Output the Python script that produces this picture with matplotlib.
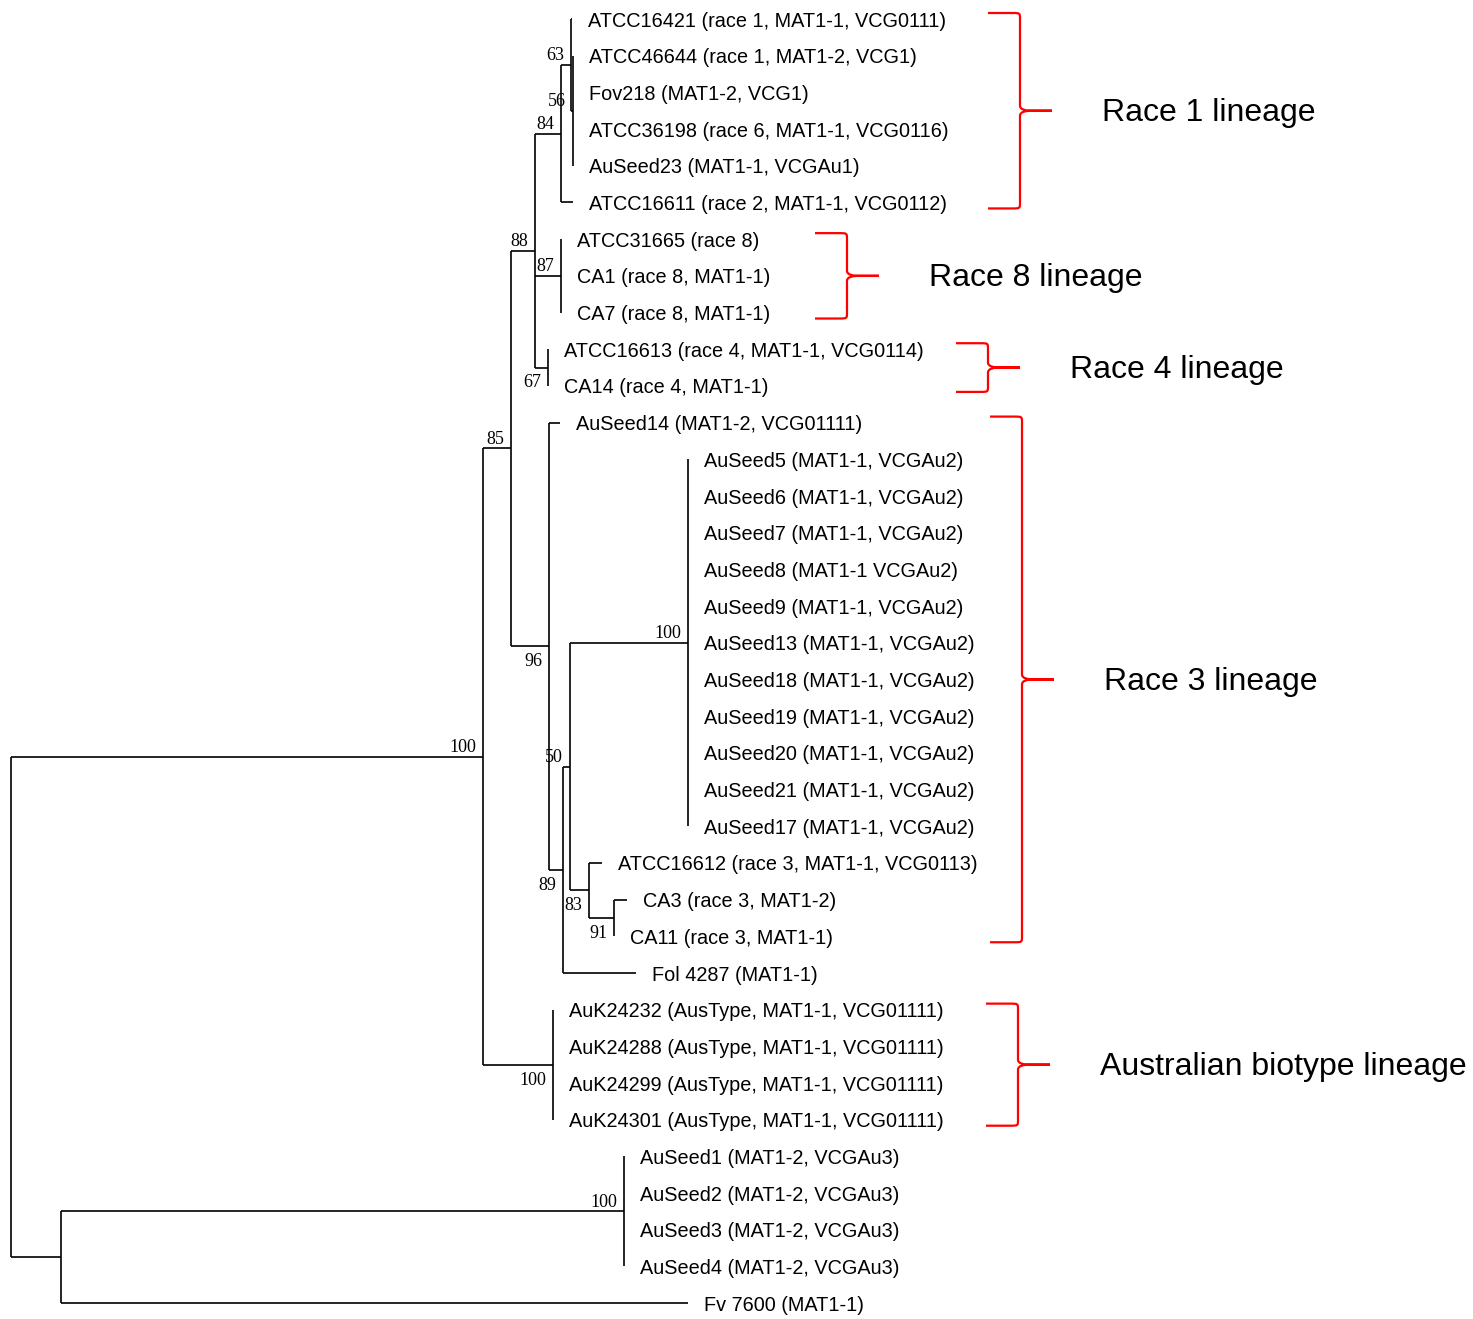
import matplotlib.pyplot as plt
from matplotlib.path import Path
from matplotlib.patches import PathPatch

plt.rcParams['font.family'] = ['Liberation Sans', 'DejaVu Sans']

# tip labels, top to bottom
leaves = [
    "ATCC16421 (race 1, MAT1-1, VCG0111)",
    "ATCC46644 (race 1, MAT1-2, VCG1)",
    "Fov218 (MAT1-2, VCG1)",
    "ATCC36198 (race 6, MAT1-1, VCG0116)",
    "AuSeed23 (MAT1-1, VCGAu1)",
    "ATCC16611 (race 2, MAT1-1, VCG0112)",
    "ATCC31665 (race 8)",
    "CA1 (race 8, MAT1-1)",
    "CA7 (race 8, MAT1-1)",
    "ATCC16613 (race 4, MAT1-1, VCG0114)",
    "CA14 (race 4, MAT1-1)",
    "AuSeed14 (MAT1-2, VCG01111)",
    "AuSeed5 (MAT1-1, VCGAu2)",
    "AuSeed6 (MAT1-1, VCGAu2)",
    "AuSeed7 (MAT1-1, VCGAu2)",
    "AuSeed8 (MAT1-1 VCGAu2)",
    "AuSeed9 (MAT1-1, VCGAu2)",
    "AuSeed13 (MAT1-1, VCGAu2)",
    "AuSeed18 (MAT1-1, VCGAu2)",
    "AuSeed19 (MAT1-1, VCGAu2)",
    "AuSeed20 (MAT1-1, VCGAu2)",
    "AuSeed21 (MAT1-1, VCGAu2)",
    "AuSeed17 (MAT1-1, VCGAu2)",
    "ATCC16612 (race 3, MAT1-1, VCG0113)",
    "CA3 (race 3, MAT1-2)",
    "CA11 (race 3, MAT1-1)",
    "Fol 4287 (MAT1-1)",
    "AuK24232 (AusType, MAT1-1, VCG01111)",
    "AuK24288 (AusType, MAT1-1, VCG01111)",
    "AuK24299 (AusType, MAT1-1, VCG01111)",
    "AuK24301 (AusType, MAT1-1, VCG01111)",
    "AuSeed1 (MAT1-2, VCGAu3)",
    "AuSeed2 (MAT1-2, VCGAu3)",
    "AuSeed3 (MAT1-2, VCGAu3)",
    "AuSeed4 (MAT1-2, VCGAu3)",
    "Fv 7600 (MAT1-1)",
]

# leaf = (leaf index, branch length)
# node = (bootstrap, branch length, label side 'a'bove/'b'elow, children)
tree = (None, 0.0, None, [
    (100, 0.472, 'a', [
        (85, 0.028, 'a', [
            (88, 0.024, 'a', [
                (84, 0.026, 'a', [
                    (63, 0.010, 'a', [
                        (0, 0.001),
                        (56, 0.002, 'a', [(1, 0), (2, 0), (3, 0), (4, 0)]),
                    ]),
                    (5, 0.012),
                ]),
                (87, 0.026, 'a', [(6, 0), (7, 0), (8, 0)]),
                (67, 0.013, 'b', [(9, 0), (10, 0)]),
            ]),
            (96, 0.038, 'b', [
                (11, 0.011),
                (89, 0.014, 'b', [
                    (50, 0.007, 'a', [
                        (100, 0.118, 'a', [(i, 0) for i in range(12, 23)]),
                        (83, 0.019, 'b', [
                            (23, 0.013),
                            (91, 0.025, 'b', [(24, 0.013), (25, 0)]),
                        ]),
                    ]),
                    (26, 0.073),
                ]),
            ]),
        ]),
        (100, 0.070, 'b', [(27, 0), (28, 0), (29, 0), (30, 0)]),
    ]),
    (None, 0.050, None, [
        (100, 0.563, 'a', [(31, 0), (32, 0), (33, 0), (34, 0)]),
        (35, 0.627),
    ]),
])

# lineage brackets
groups = ["Race 1 lineage", "Race 8 lineage", "Race 4 lineage",
          "Race 3 lineage", "Australian biotype lineage"]
group_first = [0, 6, 9, 11, 27]
group_last = [5, 8, 10, 25, 30]
group_x = [0.977, 0.804, 0.945, 0.979, 0.975]

W, H = 1473, 1319
PX = 0.001            # data units per pixel along x
ROW = 36.69           # pixels per leaf row

fig = plt.figure(figsize=(W / 100, H / 100), dpi=100)
ax = fig.add_axes([0, 0, 1, 1])
ax.set_xlim(-11 * PX, (W - 11) * PX)
ax.set_ylim((H - 19) / ROW, -19 / ROW)
ax.axis('off')

lw = 1.2


def draw(node, x0):
    if len(node) == 2:
        idx, bl = node
        x1 = x0 + bl
        ax.plot([x0, x1], [idx, idx], color='black', lw=lw, solid_capstyle='butt')
        ax.annotate(leaves[idx], (x1, idx), xytext=(11.5, -1.5), textcoords='offset points',
                    ha='left', va='center', fontsize=14.3)
        return idx
    support, bl, side, kids = node
    x1 = x0 + bl
    ys = [draw(k, x1) for k in kids]
    y = (ys[0] + ys[-1]) / 2
    ax.plot([x1, x1], [ys[0], ys[-1]], color='black', lw=lw, solid_capstyle='butt')
    if bl > 0:
        ax.plot([x0, x1], [y, y], color='black', lw=lw, solid_capstyle='butt')
    if support is not None:
        if side == 'a':
            ax.annotate(str(support), (x1, y), xytext=(-5, 3.5), textcoords='offset points',
                        ha='right', va='baseline', fontsize=13, family='Liberation Serif')
        else:
            ax.annotate(str(support), (x1, y), xytext=(-5, -5), textcoords='offset points',
                        ha='right', va='top', fontsize=13, family='Liberation Serif')
    return y


draw(tree, 0.0)

# curly brackets
w = 32 * PX
rx, ry = 8 * PX, 6 / ROW
tx, ty = 12 * PX, 5 / ROW
pad = 6 / ROW
for name, a, b, x0 in zip(groups, group_first, group_last, group_x):
    yt, yb = a - pad, b + pad
    ym = (a + b) / 2
    xv = x0 + w
    verts = [
        (x0, yt), (xv - rx, yt),
        (xv, yt), (xv, yt), (xv, yt + ry),
        (xv, ym - ty),
        (xv, ym - ty * 0.2), (xv + tx * 0.5, ym), (xv + tx, ym),
        (xv + w, ym),
        (xv + tx, ym),
        (xv + tx * 0.5, ym), (xv, ym + ty * 0.2), (xv, ym + ty),
        (xv, yb - ry),
        (xv, yb), (xv, yb), (xv - rx, yb),
        (x0, yb),
    ]
    codes = [Path.MOVETO, Path.LINETO,
             Path.CURVE4, Path.CURVE4, Path.CURVE4,
             Path.LINETO,
             Path.CURVE4, Path.CURVE4, Path.CURVE4,
             Path.LINETO,
             Path.LINETO,
             Path.CURVE4, Path.CURVE4, Path.CURVE4,
             Path.LINETO,
             Path.CURVE4, Path.CURVE4, Path.CURVE4,
             Path.LINETO]
    ax.add_patch(PathPatch(Path(verts, codes), fill=False, edgecolor='red', lw=1.6))
    ax.annotate(name, (xv + w + 50 * PX, ym), xytext=(0, -1.5), textcoords='offset points',
                ha='left', va='center', fontsize=23)

fig.savefig('out.png', dpi=100)
